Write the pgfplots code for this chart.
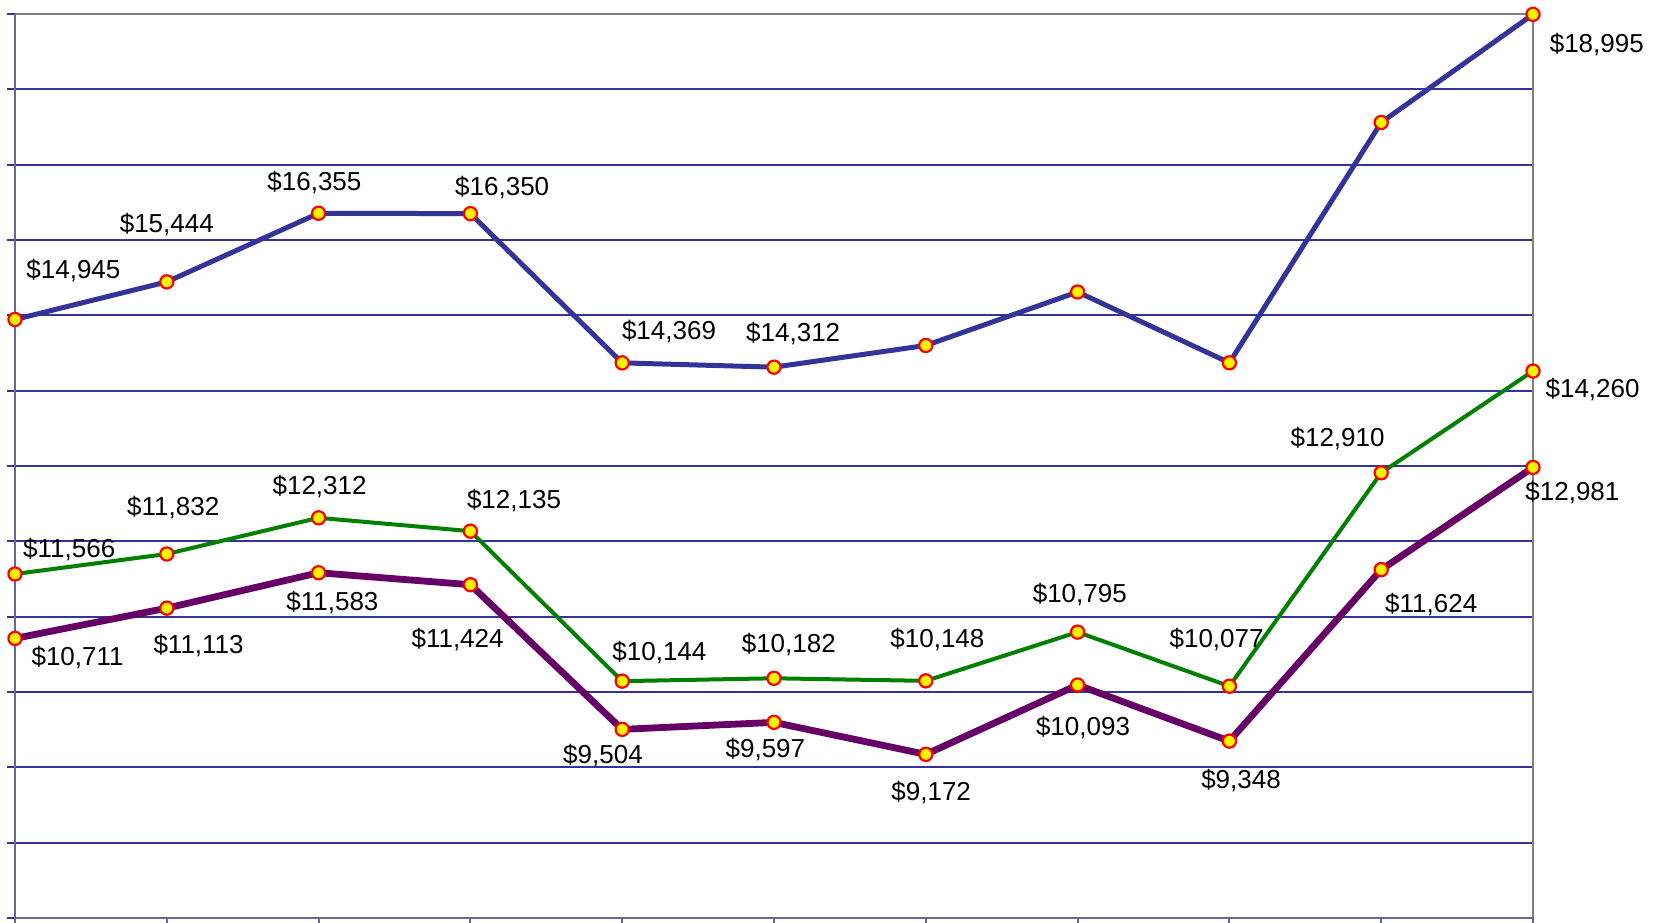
\documentclass[border=0pt]{standalone}
\usepackage{fontspec}
\setmainfont{Liberation Sans}
\usepackage{pgfplots}
\pgfplotsset{compat=1.18}
\usepackage{pgfplotstable}
\definecolor{cblue}{HTML}{333399}
\definecolor{cgreen}{HTML}{008000}
\definecolor{cpurple}{HTML}{660066}
\definecolor{cgrid}{HTML}{333399}
\definecolor{cframe}{HTML}{808080}
\definecolor{cleft}{HTML}{666699}

% series
\pgfplotstableread{
x y
0 14945
1 15444
2 16355
3 16350
4 14369
5 14312
6 14600
7 15310
8 14370
9 17560
10 18995
}\blue
\pgfplotstableread{
x y
0 11566
1 11832
2 12312
3 12135
4 10144
5 10182
6 10148
7 10795
8 10077
9 12910
10 14260
}\green
\pgfplotstableread{
x y
0 10711
1 11113
2 11583
3 11424
4 9504
5 9597
6 9172
7 10093
8 9348
9 11624
10 12981
}\purple
% labels: x y dx dy (pt)
\pgfplotstableread{
x y dx dy
0 14945 29.2 24.4
1 15444 0 28.7
2 16355 -2.1 15.4
3 16350 15.9 12.8
4 14369 23.4 15.9
5 14312 9.6 17
10 18995 31.9 -14.9
}\bluelab
\pgfplotstableread{
x y dx dy
0 11566 27.1 12.2
1 11832 3.2 23.4
2 12312 0.5 15.4
3 12135 21.8 15.4
4 10144 18.6 14.3
5 10182 7.4 17
6 10148 5.8 20.7
7 10795 1.1 18.6
8 10077 -6.4 23.4
9 12910 -21.8 17
10 14260 29.8 -9
}\greenlab
\pgfplotstableread{
x y dx dy
0 10711 31.3 -9.6
1 11113 15.9 -18.6
2 11583 6.9 -14.9
3 11424 -6.4 -27.6
4 9504 -9.6 -13.3
5 9597 -4.3 -13.8
6 9172 2.7 -19.1
7 10093 2.7 -21.3
8 9348 5.8 -19.7
9 11624 25 -17.5
10 12981 19.7 -12.8
}\purplelab

\pgfplotsset{
  labstyle/.style={
    draw=none, mark=none,
    visualization depends on={\thisrow{dx} \as \dx},
    visualization depends on={\thisrow{dy} \as \dy},
    nodes near coords={\$\pgfmathprintnumber[fixed,precision=0,1000 sep={,},assume math mode=true]{\pgfplotspointmeta}},
    point meta=y,
    every node near coord/.style={anchor=center, xshift=\dx pt, yshift=\dy pt,
      font=\fontsize{13}{15.6}\selectfont, text=black, inner sep=0pt},
  },
  mk/.style={mark=*, mark size=3.3pt, mark options={solid, fill=yellow, draw=red, line width=1.1pt}},
}

\begin{document}
\begin{tikzpicture}
\begin{axis}[
  name=ax,
  scale only axis,
  width=759pt, height=452pt,
  xmin=0, xmax=10, ymin=7000, ymax=19000,
  xtick={0,...,10}, xticklabels={},
  ytick={7000,8000,...,19000}, yticklabels={},
  ymajorgrids,
  grid style={cgrid, line width=1.1pt},
  axis line style={draw=none},
  tick align=outside,
  major tick length=4pt,
  xtick pos=bottom, ytick pos=left,
  xtick style={cleft, line width=1pt},
  ytick style={cgrid, line width=1pt},
  clip=false,
]
\draw[cframe, line width=1.3pt] (rel axis cs:0,1) -- (rel axis cs:1,1) -- (rel axis cs:1,0);
\draw[cleft, line width=1.3pt] (rel axis cs:0,1) -- (rel axis cs:0,0) -- (rel axis cs:1,0);

\addplot[cblue, line width=2.5pt, mk] table[x=x,y=y] {\blue};
\addplot[cgreen, line width=2pt, mk] table[x=x,y=y] {\green};
\addplot[cpurple, line width=3.4pt, mk] table[x=x,y=y] {\purple};

\addplot[labstyle] table[x=x,y=y] {\bluelab};
\addplot[labstyle] table[x=x,y=y] {\greenlab};
\addplot[labstyle] table[x=x,y=y] {\purplelab};
\end{axis}
\pgfresetboundingbox
\path[use as bounding box] ([shift={(-7.5pt,-2pt)}]ax.south west) rectangle ([shift={(66.5pt,7pt)}]ax.north east);
\end{tikzpicture}
\end{document}
